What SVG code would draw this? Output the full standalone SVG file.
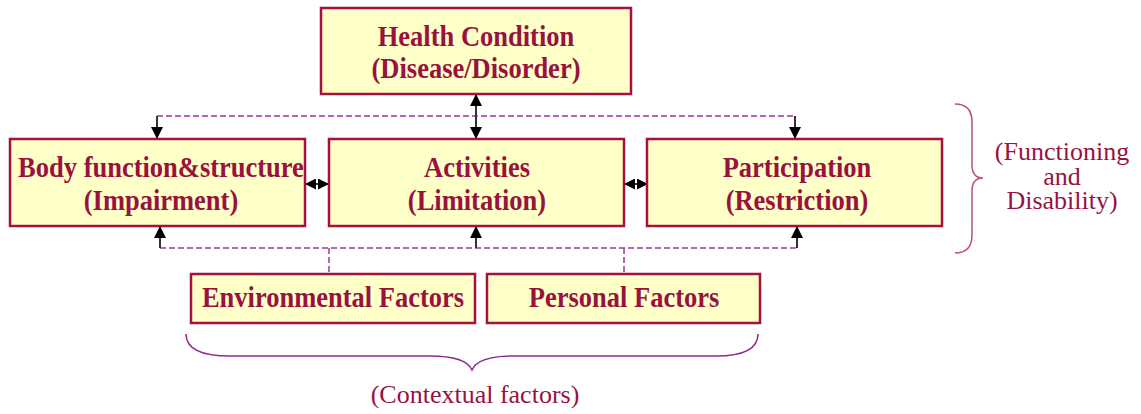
<svg xmlns="http://www.w3.org/2000/svg" width="1141" height="414" viewBox="0 0 1141 414">
<style>
.box{fill:#ffffc8;stroke:#a5103f;stroke-width:2.5}
.bt{font-family:"Liberation Serif",serif;font-weight:bold;font-size:26.5px;fill:#99123f;text-anchor:middle}
.lt{font-family:"Liberation Serif",serif;font-size:26px;fill:#99123f;text-anchor:middle}
.dash{stroke:#9b3a9b;stroke-width:1.5;stroke-dasharray:6,3;fill:none}
.arr{stroke:#333;stroke-width:2;fill:none}
</style>
<defs>
<marker id="as" markerWidth="12" markerHeight="12" refX="11" refY="6" orient="auto-start-reverse" markerUnits="userSpaceOnUse"><path d="M0,0 L12,6 L0,12 z" fill="#000"/></marker>
<marker id="ah" markerWidth="11" markerHeight="11" refX="11" refY="5.5" orient="auto-start-reverse" markerUnits="userSpaceOnUse"><path d="M0,0 L11,5.5 L0,11 z" fill="#000"/></marker>
</defs>
<g id="connectors">
<path class="dash" d="M157,116 H795"/>
<path class="dash" d="M160,248 H798"/>
<path class="dash" d="M329,248 V274"/>
<path class="dash" d="M624,248 V274"/>
<line class="arr" x1="476" y1="116" x2="476" y2="95" marker-end="url(#as)"/>
<line class="arr" x1="476" y1="116" x2="476" y2="138" marker-end="url(#as)"/>
<line class="arr" x1="157" y1="116" x2="157" y2="138" marker-end="url(#as)"/>
<line class="arr" x1="795" y1="116" x2="795" y2="138" marker-end="url(#as)"/>
<line class="arr" x1="160" y1="248" x2="160" y2="227" marker-end="url(#as)"/>
<line class="arr" x1="476" y1="248" x2="476" y2="227" marker-end="url(#as)"/>
<line class="arr" x1="797" y1="248" x2="797" y2="227" marker-end="url(#as)"/>
<line class="arr" x1="305" y1="184" x2="329" y2="184" marker-start="url(#ah)" marker-end="url(#ah)"/>
<line class="arr" x1="624" y1="184" x2="648" y2="184" marker-start="url(#ah)" marker-end="url(#ah)"/>
</g>
<g id="health"><rect class="box" x="321" y="8" width="310" height="86"/><text class="bt" transform="translate(476,46) scale(1,1.13)">Health Condition</text><text class="bt" transform="translate(476,78) scale(1,1.13)">(Disease/Disorder)</text></g>
<g id="body"><rect class="box" x="10" y="139" width="295" height="87"/><text class="bt" transform="translate(161,177) scale(1,1.13)">Body function&amp;structure</text><text class="bt" transform="translate(161,210) scale(1,1.13)">(Impairment)</text></g>
<g id="activities"><rect class="box" x="329" y="139" width="295" height="87"/><text class="bt" transform="translate(477,177) scale(1,1.13)">Activities</text><text class="bt" transform="translate(477,210) scale(1,1.13)">(Limitation)</text></g>
<g id="participation"><rect class="box" x="647" y="139" width="295" height="87"/><text class="bt" transform="translate(797,177) scale(1,1.13)">Participation</text><text class="bt" transform="translate(797,210) scale(1,1.13)">(Restriction)</text></g>
<g id="environmental"><rect class="box" x="191" y="274" width="284" height="49"/><text class="bt" transform="translate(333,307) scale(1,1.1)">Environmental Factors</text></g>
<g id="personal"><rect class="box" x="487" y="274" width="273" height="49"/><text class="bt" transform="translate(624,307) scale(1,1.1)">Personal Factors</text></g>
<g id="brace-right">
<path d="M955,104 Q972,104 972,122 V165 Q972,178 983,178 Q972,178 972,191 V235 Q972,253 955,253" fill="none" stroke="#b8507a" stroke-width="1.5"/>
<text class="lt" x="1062" y="160">(Functioning</text><text class="lt" x="1062" y="185">and</text><text class="lt" x="1062" y="209">Disability)</text>
</g>
<g id="brace-bottom">
<path d="M186,334 Q186,356 230,356 H430 Q466,356 472,370 Q478,356 514,356 H716 Q758,356 758,334" fill="none" stroke="#8e2a8e" stroke-width="1.5"/>
<text class="lt" x="475" y="403">(Contextual factors)</text>
</g>
</svg>
